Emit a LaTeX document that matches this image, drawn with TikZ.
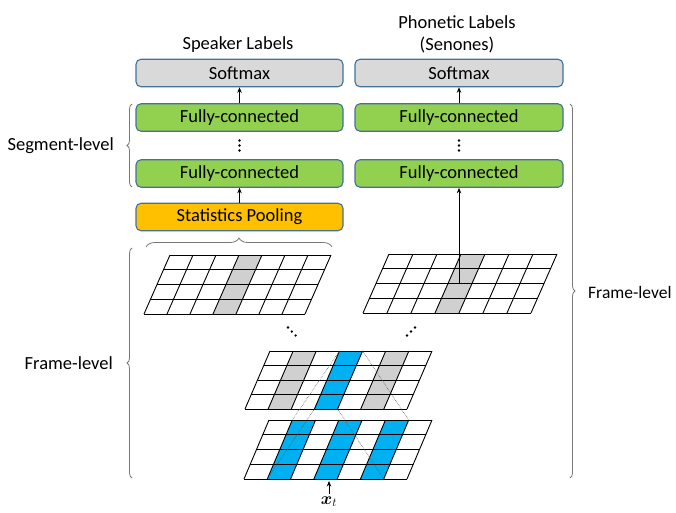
\documentclass[tikz,border=0pt]{standalone}
\usepackage{amsmath,amsbsy}
\usepackage{fontspec}
\setmainfont{Carlito}
\usetikzlibrary{arrows.meta,decorations.pathreplacing}
\definecolor{boxedge}{RGB}{65,113,156}
\definecolor{fcgreen}{RGB}{146,208,80}
\definecolor{poolorange}{RGB}{255,192,0}
\definecolor{smgray}{RGB}{217,217,217}
\definecolor{cellgray}{RGB}{208,208,208}
\definecolor{cellblue}{RGB}{0,176,240}
\definecolor{bracegray}{RGB}{120,120,120}
\newcommand{\skgrid}[6]{%
  \foreach \k/\c in {#6} {
    \fill[\c] ({#1+\k*#3/7},#2) -- ({#1+(\k+1)*#3/7},#2) -- ({#1+(\k+1)*#3/7+#5},{#2-#4}) -- ({#1+\k*#3/7+#5},{#2-#4}) -- cycle;
  }
  \foreach \j in {0,...,4} \draw[gridline] ({#1+\j*#5/4},{#2-\j*#4/4}) -- ++(#3,0);
  \foreach \k in {0,...,7} \draw[gridline] ({#1+\k*#3/7},#2) -- ++(#5,{-#4});
}
\begin{document}
\begin{tikzpicture}[x=1pt,y=-1pt,
  box/.style={draw=boxedge,line width=1.1pt,rounded corners=5pt,minimum height=27.5pt,inner sep=0pt,
    font=\fontsize{18.5}{20}\selectfont},
  lbox/.style={box,minimum width=207pt},
  rbox/.style={box,minimum width=208pt},
  lbl/.style={font=\fontsize{18.5}{21}\selectfont,inner sep=0pt},
  gridline/.style={line width=0.9pt,black},
  arr/.style={-{Stealth[length=5.5pt,width=4.5pt]},line width=0.8pt,black},
  brc/.style={decorate,decoration={brace,amplitude=5pt},draw=bracegray,line width=0.8pt},
  dots/.style={fill=black},
  recept/.style={densely dotted,line width=0.6pt,black!65}
]
\useasboundingbox (0,0) rectangle (676,512);

% boxes
\node[lbox,fill=smgray] (lsm) at (239.5,73) {Softmax};
\node[lbox,fill=fcgreen] (lfc1) at (239.5,117.5) {Fully-connected};
\node[lbox,fill=fcgreen] (lfc2) at (239.5,173.5) {Fully-connected};
\node[lbox,fill=poolorange] (pool) at (239.5,217) {Statistics Pooling};
\node[rbox,fill=smgray] (rsm) at (459,73) {Softmax};
\node[rbox,fill=fcgreen] (rfc1) at (459,117.5) {Fully-connected};
\node[rbox,fill=fcgreen] (rfc2) at (459,173.5) {Fully-connected};

% titles
\node[lbl] (spk) at (238,45) {Speaker Labels};
\node[lbl] (pho1) at (457,22) {Phonetic Labels};
\node[lbl] (pho2) at (457,45) {(Senones)};

% vertical dots
\foreach \yy in {140.5,145.5,150.5} {
  \fill[dots] (239.5,\yy) circle (1.4pt);
  \fill[dots] (459,\yy) circle (1.4pt);
}

% arrows
\draw[arr] (lfc1.north) -- (lsm.south);
\draw[arr] (pool.north) -- (lfc2.south);
\draw[arr] (rfc1.north) -- (rsm.south);

% grids
\skgrid{144}{314}{161}{59}{26}{3/cellgray}
\skgrid{363}{313}{168}{59}{26}{3/cellgray}
\skgrid{245}{409}{162}{58}{25}{1/cellgray,5/cellgray,3/cellblue}
\skgrid{244}{479}{163}{59}{25}{1/cellblue,3/cellblue,5/cellblue}

\coordinate (g2c) at (459,283.5);
\draw[line width=0.8pt] (g2c) -- (459,240);
\draw[arr] (459,240) -- (rfc2.south);

% receptive field lines
\coordinate (mtl) at (339.4,351);
\coordinate (mbl) at (314.4,409);
\coordinate (mtr) at (362.6,351);
\coordinate (mbr) at (337.6,409);
\coordinate (btl) at (292.3,420);
\coordinate (bbl) at (267.3,479);
\coordinate (btr) at (408.7,420);
\coordinate (bbr) at (383.7,479);
\draw[recept] (mtl) -- (btl);
\draw[recept] (mbl) -- (bbl);
\draw[recept] (mtr) -- (btr);
\draw[recept] (mbr) -- (bbr);

% diagonal dots
\foreach \xx/\yy in {288/327.5,291.8/331.5,295.6/335.5} \fill[dots] (\xx,\yy) circle (1.3pt);
\foreach \xx/\yy in {407/335.5,411/331.5,415/327.5} \fill[dots] (\xx,\yy) circle (1.3pt);

% input
\node[inner sep=0pt,font=\fontsize{17}{17}\selectfont] (xlab) at (329,501.5) {$\boldsymbol{x}_t$};
\coordinate (xin) at (329,481);
\draw[arr] (329,494) -- (xin);

% braces
\coordinate (tb1) at (146,247);
\coordinate (tb2) at (332,247);
\draw[brc,decoration={amplitude=9pt}] (tb1) -- (tb2);

\coordinate (sb1) at (132,187);
\coordinate (sb2) at (132,104);
\draw[brc] (sb1) -- (sb2);
\node[lbl,anchor=east] (seg) at (114,145.5) {Segment-level};

\coordinate (fb1) at (132,478);
\coordinate (fb2) at (132,248);
\draw[brc] (fb1) -- (fb2);
\node[lbl,anchor=east] (frl) at (113,363) {Frame-level};

\coordinate (rb1) at (570,104);
\coordinate (rb2) at (570,478);
\draw[brc] (rb1) -- (rb2);
\node[lbl,anchor=west,font=\fontsize{17.5}{20}\selectfont] (frr) at (588,292) {Frame-level};
\end{tikzpicture}
\end{document}
